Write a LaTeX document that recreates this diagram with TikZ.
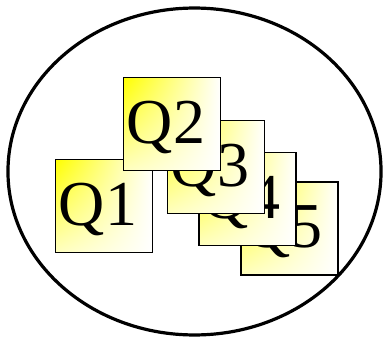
\documentclass[tikz,border=0pt]{standalone}
\usepackage{fontspec}
\setmainfont{Liberation Serif}
\usetikzlibrary{positioning,shadings}
\definecolor{Qy}{HTML}{FFFF00}
\tikzset{
  qcard/.style={draw=black, line width=1.3pt, upper left=Qy, upper right=white, lower left=Qy!25,
    lower right=white, text width=67.75pt, inner xsep=2.5pt, inner ysep=0pt, minimum height=69.75pt,
    align=left, text height=29pt, text depth=0pt, font=\fontsize{48}{54}\selectfont},
  rim/.style={line width=2.4pt},
}
\begin{document}
\begin{tikzpicture}[x=0.75pt, y=0.75pt]
  \useasboundingbox (0,0) rectangle (384,340);
  \draw[rim] (194.5,168.5) ellipse [x radius=139.9pt, y radius=122.6pt];
  % back to front
  \node[qcard] (q5) at (289.5,111.5) {Q5};
  \node[qcard] (q4) at (247.5,141) {Q4};
  \node[qcard] (q3) at (216,173) {Q3};
  \node[qcard] (q1) at (104,134) {Q1};
  \node[qcard] (q2) at (172,216) {Q2};
\end{tikzpicture}
\end{document}
